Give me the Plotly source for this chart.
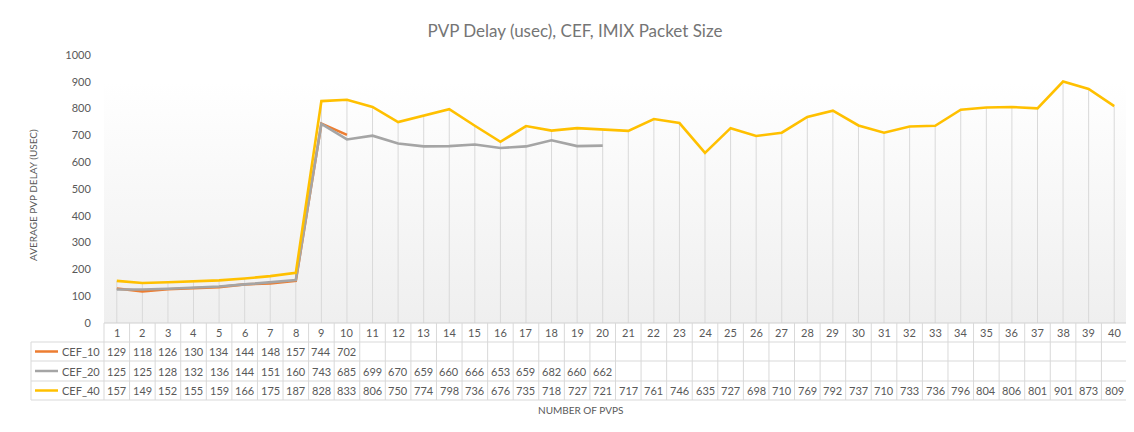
import plotly.graph_objects as go
import numpy as np

categories = list(range(1, 41))
cef_10 = [129, 118, 126, 130, 134, 144, 148, 157, 744, 702]
cef_20 = [125, 125, 128, 132, 136, 144, 151, 160, 743, 685, 699, 670, 659, 660, 666, 653, 659, 682, 660, 662]
cef_40 = [157, 149, 152, 155, 159, 166, 175, 187, 828, 833, 806, 750, 774, 798, 736, 676, 735, 718, 727, 721,
          717, 761, 746, 635, 727, 698, 710, 769, 792, 737, 710, 733, 736, 796, 804, 806, 801, 901, 873, 809]
series_names = ["CEF_10", "CEF_20", "CEF_40"]
series_values = [cef_10, cef_20, cef_40]
series_colors = ["#ED7D31", "#A5A5A5", "#FFC000"]
y_ticks = list(range(0, 1001, 100))

# page body has an 8px margin; lay out in window pixels and convert
OFF = 8
WIN_W, WIN_H = 1134, 432
W, H = WIN_W - OFF, WIN_H - OFF
PL, PR, PT, PB = 104, 1127, 55, 323  # plot area in window pixels
L, R, T, B = PL - OFF, WIN_W - PR, PT - OFF, WIN_H - PB
PW = W - L - R
PH = H - T - B

def px_x(p):
    return (p - PL) / PW

def px_y(p):
    return (PB - p) / PH

FONT = "Lato"
TXT = "#595959"
GRID = "#d9d9d9"

fig = go.Figure()

xmin, xmax = categories[0] - 0.5, categories[-1] + 0.5

def cat_to_paper(v):
    return (v - xmin) / (xmax - xmin)

# plot area gradient background
fig.add_trace(go.Scatter(
    x=[xmin, xmax, xmax, xmin], y=[0, 0, 900, 900], fill="toself", mode="none",
    fillgradient=dict(type="vertical", colorscale=[[0, "#efefef"], [1, "#ffffff"]]),
    hoverinfo="skip", showlegend=False))

# drop lines
padded = []
for vals in series_values:
    padded.append(list(vals) + [np.nan] * (len(categories) - len(vals)))
maxvals = np.nanmax(np.array(padded, dtype=float), axis=0)
fig.add_trace(go.Scatter(
    x=categories, y=maxvals, mode="markers", marker=dict(size=1, color="rgba(0,0,0,0)"),
    error_y=dict(type="data", symmetric=False, array=[0] * len(categories),
                 arrayminus=list(maxvals), width=0, thickness=1, color=GRID),
    hoverinfo="skip", showlegend=False))

for name, vals, col in zip(series_names, series_values, series_colors):
    fig.add_trace(go.Scatter(x=categories[:len(vals)], y=vals, mode="lines", name=name,
                             line=dict(color=col, width=2.6), showlegend=False))

shapes = []
annotations = []

row_edges_px = [323, 342, 361, 381, 400]
table_left_px = 31
line = dict(color=GRID, width=1)
for p in row_edges_px[1:]:
    shapes.append(dict(type="line", xref="paper", yref="paper", x0=px_x(table_left_px), x1=1,
                       y0=px_y(p), y1=px_y(p), line=line))
shapes.append(dict(type="line", xref="paper", yref="paper", x0=0, x1=1,
                   y0=0, y1=0, line=dict(color="#d0d0d0", width=1)))
for k in range(len(categories) + 1):
    xp = cat_to_paper(xmin + k)
    shapes.append(dict(type="line", xref="paper", yref="paper", x0=xp, x1=xp,
                       y0=px_y(row_edges_px[0]), y1=px_y(row_edges_px[-1]), line=line))
shapes.append(dict(type="line", xref="paper", yref="paper", x0=px_x(table_left_px), x1=px_x(table_left_px),
                   y0=px_y(row_edges_px[1]), y1=px_y(row_edges_px[-1]), line=line))

cell_font = dict(family=FONT, size=11, color=TXT)
hy = px_y((row_edges_px[0] + row_edges_px[1]) / 2)
for c in categories:
    annotations.append(dict(x=c, y=hy, xref="x", yref="paper", text=str(c), showarrow=False,
                            xanchor="center", yanchor="middle", font=cell_font))
for i, (name, vals, col) in enumerate(zip(series_names, series_values, series_colors)):
    cy = px_y((row_edges_px[i + 1] + row_edges_px[i + 2]) / 2)
    for c, v in zip(categories, vals):
        annotations.append(dict(x=c, y=cy, xref="x", yref="paper", text=str(v), showarrow=False,
                                xanchor="center", yanchor="middle", font=cell_font))
    shapes.append(dict(type="line", xref="paper", yref="paper", x0=px_x(35), x1=px_x(58),
                       y0=cy, y1=cy, line=dict(color=col, width=2.5)))
    annotations.append(dict(x=px_x(102), y=cy, xref="paper", yref="paper", text=name, showarrow=False,
                            xanchor="right", yanchor="middle", font=cell_font))

annotations.append(dict(x=px_x(33), y=px_y(195), xref="paper", yref="paper", text="AVERAGE PVP DELAY (USEC)",
                        textangle=-90, showarrow=False, xanchor="center", yanchor="middle",
                        font=dict(family=FONT, size=10, color=TXT)))
annotations.append(dict(x=px_x(580), y=px_y(410), xref="paper", yref="paper", text="NUMBER OF PVPS",
                        showarrow=False, xanchor="center", yanchor="middle",
                        font=dict(family=FONT, size=10, color=TXT)))

fig.update_layout(
    width=W, height=H,
    margin=dict(l=L, r=R, t=T, b=B),
    paper_bgcolor="white", plot_bgcolor="white",
    title=dict(text="PVP Delay (usec), CEF, IMIX Packet Size", x=(575 - OFF) / W, y=1 - (31 - OFF) / H,
               xref="container", yref="container", xanchor="center", yanchor="middle",
               font=dict(family=FONT, size=17, color="#757575")),
    xaxis=dict(range=[xmin, xmax], showgrid=False, zeroline=False, showticklabels=False, ticks="",
               showline=False, fixedrange=True),
    yaxis=dict(range=[0, 1000], tickvals=y_ticks, showgrid=False, zeroline=False, showline=False,
               ticks="outside", ticklen=10, tickcolor="rgba(0,0,0,0)",
               tickfont=dict(family=FONT, size=11, color=TXT), fixedrange=True),
    shapes=shapes, annotations=annotations, showlegend=False,
)

fig.write_html("out.html")
